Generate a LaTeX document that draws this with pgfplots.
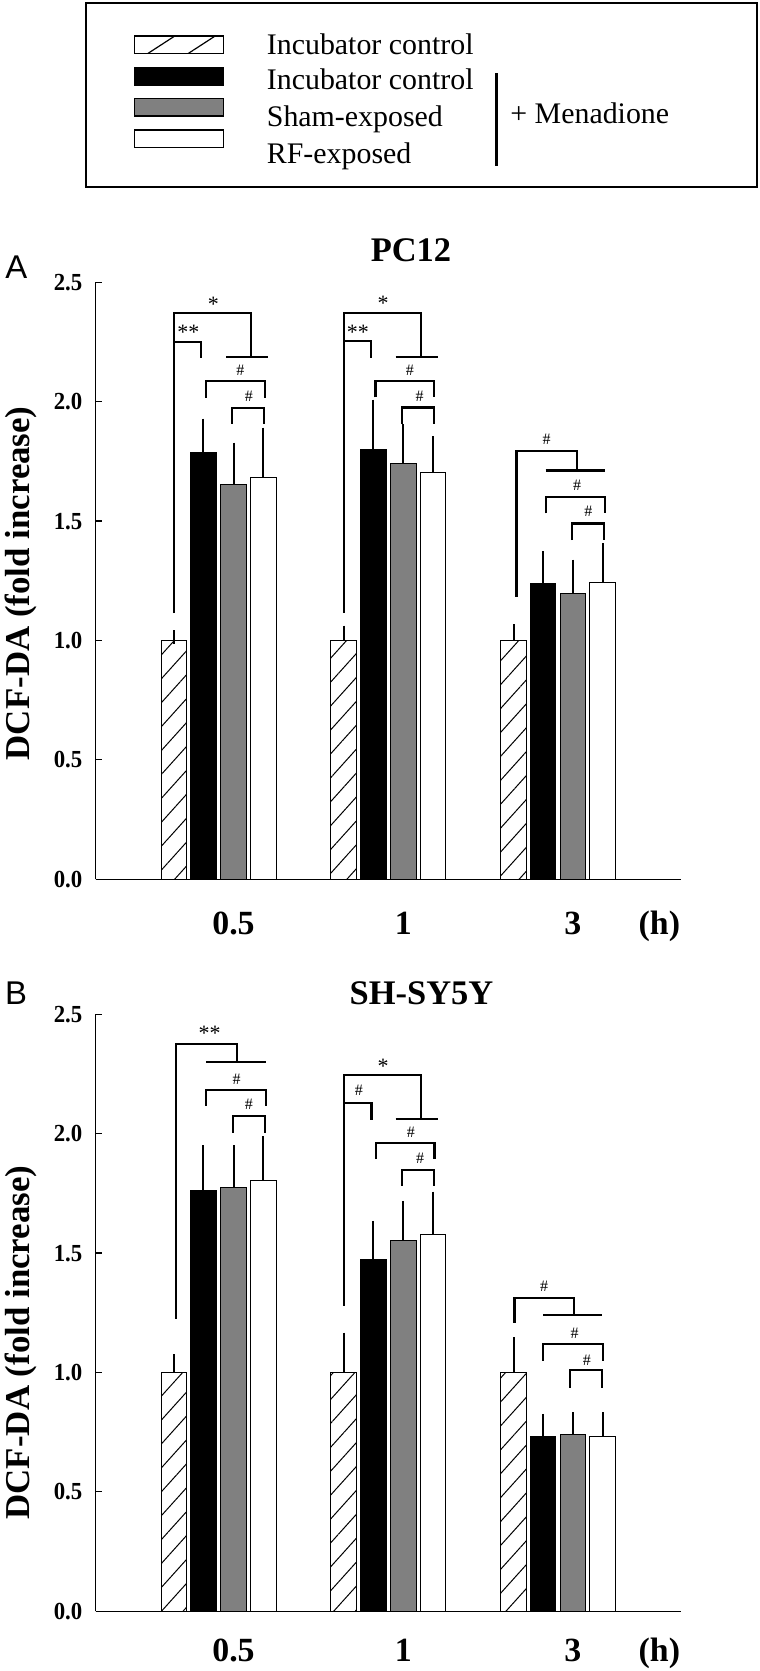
\documentclass[border=0pt]{standalone}
\usepackage{pgfplots}
\pgfplotsset{compat=1.18}
\usetikzlibrary{patterns.meta}
\usepackage{fontspec}
\setmainfont{Liberation Serif}
\newfontfamily\tickfont[FakeStretch=0.93]{Liberation Serif}
\newfontfamily\panelfont{Liberation Sans}
\definecolor{midgray}{RGB}{128,128,128}

\pgfplotsset{
  panel/.style={
    scale only axis, width=292.6bp, height=298.5bp,
    xmin=95.5, xmax=680.7, ymin=0, ymax=2.5,
    axis x line*=bottom, axis y line*=left,
    axis line style={-, line width=0.6bp},
    ytick={0,0.5,1,1.5,2,2.5}, yticklabels={0.0,0.5,1.0,1.5,2.0,2.5},
    xtick={233.5,403.25,572.9,659.4}, xticklabels={0.5,1,3,(h)},
    major x tick style={draw=none},
    tick align=inside, major tick length=3bp,
    major y tick style={line width=0.6bp, black},
    yticklabel style={font=\tickfont\bfseries\fontsize{12.3}{13}\selectfont, anchor=east, inner sep=0pt, xshift=-6.4bp},
    clip=false,
  },
  barbase/.style={ybar, bar shift=0pt, bar width=25.6, draw=black, line width=0.5bp,
    error bars/y dir=plus, error bars/y explicit,
    error bars/error bar style={line width=1bp, black, solid},
    error bars/error mark options={mark size=3.4bp, line width=1bp, black, solid}},
  hatchbar/.style={barbase, fill=white, postaction={pattern={Lines[angle=48,distance=8bp,line width=0.5bp]}}},
  blackbar/.style={barbase, fill=black},
  graybar/.style={barbase, fill=midgray},
  whitebar/.style={barbase, fill=white},
}
\tikzset{
  br/.style={line width=1.1bp, black},
  hs/.style={font=\fontsize{8}{8}\selectfont, inner sep=0pt},
  st/.style={font=\fontsize{11}{11}\selectfont, inner sep=0pt, yshift=-1.4bp},
}

\begin{document}
\begin{tikzpicture}
\useasboundingbox (0,0) rectangle (380bp,835.5bp);

% ---------- legend ----------
\draw[line width=1bp] (42.85bp,742bp) rectangle (378.5bp,833.85bp);
\draw[line width=0.7bp, pattern={Lines[angle=33,distance=11bp,line width=0.6bp]}] (67.35bp,808.85bp) rectangle (111.75bp,817.5bp);
\filldraw[fill=black, draw=black, line width=0.7bp] (67.35bp,793bp) rectangle (111.75bp,801.65bp);
\filldraw[fill=midgray, draw=black, line width=0.7bp] (67.35bp,777.5bp) rectangle (111.75bp,786.15bp);
\filldraw[fill=white, draw=black, line width=0.7bp] (67.35bp,761.85bp) rectangle (111.75bp,770.5bp);
\begin{scope}[every node/.style={anchor=base west, inner sep=0pt, font=\fontsize{15}{15}\selectfont}]
\node at (133.25bp,808.35bp) {Incubator control};
\node at (133.25bp,790.5bp) {Incubator control};
\node at (133.25bp,772.15bp) {Sham-exposed};
\node at (133.25bp,753.85bp) {RF-exposed};
\node at (255bp,773.5bp) {+ Menadione};
\end{scope}
\draw[line width=1.5bp] (248bp,752.5bp) -- (248bp,799.15bp);

% ---------- panel A ----------
\node[anchor=base west, inner sep=0pt, font=\panelfont\fontsize{16.5}{17}\selectfont] at (2.5bp,696.35bp) {A};
\node[anchor=base, inner sep=0pt, font=\bfseries\fontsize{17.3}{17.3}\selectfont] at (205.5bp,704.65bp) {PC12};
\node[rotate=90, anchor=base, inner sep=0pt, font=\bfseries\fontsize{17.5}{17.5}\selectfont] at (14.5bp,543.85bp) {DCF-DA (fold increase)};

\begin{axis}[panel, at={(47.75bp,395.85bp)}, anchor=south west,
  xticklabel style={font=\bfseries\fontsize{17}{17}\selectfont, anchor=base, inner sep=0pt, yshift=-27.85bp}]
\addplot[hatchbar] coordinates {(173.85,1.0) +- (0,0.014) (343.65,1.0) +- (0,0.034) (513.6,1.0) +- (0,0.039)};
\addplot[blackbar] coordinates {(203.45,1.789) +- (0,0.112) (373.4,1.800) +- (0,0.180) (543.1,1.237) +- (0,0.109)};
\addplot[graybar] coordinates {(233.55,1.655) +- (0,0.145) (403.25,1.742) +- (0,0.136) (572.9,1.198) +- (0,0.112)};
\addplot[whitebar] coordinates {(263.35,1.682) +- (0,0.181) (432.85,1.703) +- (0,0.124) (602.55,1.244) +- (0,0.134)};
% group 0.5 h
\draw[br] (174.3,1.115) -- (174.3,2.370) -- (250.7,2.370) -- (250.7,2.186);
\draw[br] (226,2.186) -- (267.7,2.186);
\draw[br] (174.3,2.251) -- (201,2.251) -- (201,2.182);
\draw[br] (205.7,2.017) -- (205.7,2.085) -- (265,2.085) -- (265,2.017);
\draw[br] (231.7,1.907) -- (231.7,1.974) -- (264,1.974) -- (264,1.907);
\node[st] at (213.4,2.419) {*};
\node[st] at (188.3,2.302) {**};
\node[hs] at (240.3,2.131) {\#};
\node[hs] at (248.8,2.021) {\#};
% group 1 h
\draw[br] (344.3,1.117) -- (344.3,2.372) -- (421,2.372) -- (421,2.188);
\draw[br] (395.7,2.188) -- (438.4,2.188);
\draw[br] (344.3,2.253) -- (371.2,2.253) -- (371.2,2.184);
\draw[br] (375.4,2.018) -- (375.4,2.085) -- (434,2.085) -- (434,2.018);
\draw[br] (401.6,1.906) -- (401.6,1.976) -- (434,1.976) -- (434,1.906);
\node[st] at (383.1,2.423) {*};
\node[st] at (357.9,2.304) {**};
\node[hs] at (409.8,2.133) {\#};
\node[hs] at (419.5,2.024) {\#};
% group 3 h
\draw[br] (516.5,1.184) -- (516.5,1.793) -- (577.1,1.793) -- (577.1,1.712);
\draw[br] (545.6,1.712) -- (604.8,1.712);
\draw[br] (546,1.532) -- (546,1.602) -- (604.8,1.602) -- (604.8,1.532);
\draw[br] (572.3,1.42) -- (572.3,1.49) -- (603.8,1.49) -- (603.8,1.42);
\node[hs] at (546.6,1.842) {\#};
\node[hs] at (577.1,1.648) {\#};
\node[hs] at (588.3,1.539) {\#};
\end{axis}

% ---------- panel B ----------
\node[anchor=base west, inner sep=0pt, font=\panelfont\fontsize{16.5}{17}\selectfont] at (2.4bp,333bp) {B};
\node[anchor=base, inner sep=0pt, font=\bfseries\fontsize{17.3}{17.3}\selectfont] at (210.75bp,333bp) {SH-SY5Y};
\node[rotate=90, anchor=base, inner sep=0pt, font=\bfseries\fontsize{17.5}{17.5}\selectfont] at (14.5bp,164.25bp) {DCF-DA (fold increase)};

\begin{axis}[panel, at={(47.75bp,29.85bp)}, anchor=south west,
  xticklabel style={font=\bfseries\fontsize{17}{17}\selectfont, anchor=base, inner sep=0pt, yshift=-25.2bp}]
\addplot[hatchbar] coordinates {(173.85,1.0) +- (0,0.047) (343.65,1.0) +- (0,0.138) (513.6,1.0) +- (0,0.120)};
\addplot[blackbar] coordinates {(203.45,1.762) +- (0,0.161) (373.4,1.475) +- (0,0.131) (543.1,0.734) +- (0,0.064)};
\addplot[graybar] coordinates {(233.55,1.775) +- (0,0.149) (403.25,1.552) +- (0,0.138) (572.9,0.741) +- (0,0.065)};
\addplot[whitebar] coordinates {(263.35,1.803) +- (0,0.157) (432.85,1.578) +- (0,0.151) (602.55,0.732) +- (0,0.074)};
% group 0.5 h
\draw[br] (176,1.226) -- (176,2.376) -- (236.7,2.376) -- (236.7,2.301);
\draw[br] (206.1,2.301) -- (265.8,2.301);
\draw[br] (206.1,2.116) -- (206.1,2.182) -- (265.8,2.182) -- (265.8,2.116);
\draw[br] (232.8,2.003) -- (232.8,2.075) -- (264.8,2.075) -- (264.8,2.003);
\node[st] at (209.5,2.433) {**};
\node[hs] at (236.7,2.228) {\#};
\node[hs] at (248.8,2.122) {\#};
% group 1 h
\draw[br] (344.3,1.280) -- (344.3,2.245) -- (421,2.245) -- (421,2.062);
\draw[br] (395.7,2.062) -- (438.4,2.062);
\draw[br] (344.3,2.128) -- (371.5,2.128) -- (371.5,2.058);
\draw[br] (375.9,1.893) -- (375.9,1.960) -- (434.5,1.960) -- (434.5,1.893);
\draw[br] (401.6,1.783) -- (401.6,1.849) -- (434,1.849) -- (434,1.783);
\node[st] at (383.1,2.294) {*};
\node[hs] at (358.9,2.182) {\#};
\node[hs] at (410.8,2.008) {\#};
\node[hs] at (420,1.896) {\#};
% group 3 h
\draw[br] (514.5,1.209) -- (514.5,1.313) -- (574.2,1.313) -- (574.2,1.240);
\draw[br] (543.2,1.240) -- (602.3,1.240);
\draw[br] (543.2,1.049) -- (543.2,1.121) -- (603.3,1.121) -- (603.3,1.049);
\draw[br] (569.8,0.937) -- (569.8,1.010) -- (602.3,1.010) -- (602.3,0.937);
\node[hs] at (544.1,1.359) {\#};
\node[hs] at (574.7,1.163) {\#};
\node[hs] at (586.8,1.052) {\#};
\end{axis}
\end{tikzpicture}
\end{document}
